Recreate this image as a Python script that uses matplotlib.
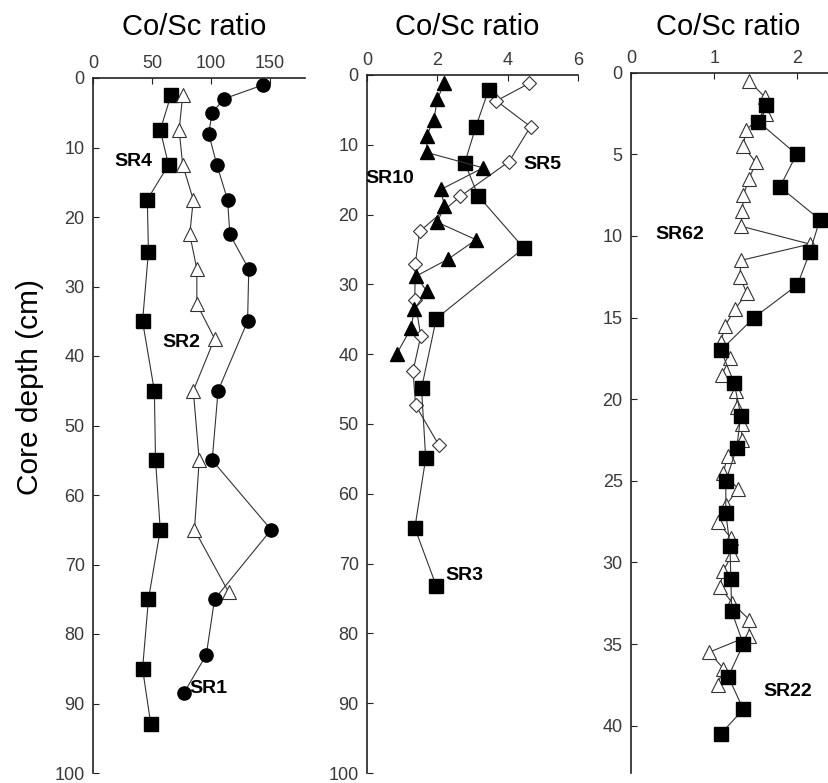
#!/usr/bin/env python3
import matplotlib
matplotlib.use('Agg')
import matplotlib.pyplot as plt

plt.rcParams['font.family'] = ['Liberation Sans', 'DejaVu Sans']

# panel 1: SR4 (squares), SR1 (circles), SR2 (open triangles)
sr4_depth = [2.5, 7.5, 12.5, 17.5, 25, 35, 45, 55, 65, 75, 85, 93]
sr4_ratio = [66, 57, 64, 46, 47, 42, 52, 53, 57, 47, 42, 49]

sr1_depth = [1, 3, 5, 8, 12.5, 17.5, 22.5, 27.5, 35, 45, 55, 65, 75, 83, 88.5]
sr1_ratio = [144, 111, 101, 98, 105, 114, 116, 132, 131, 106, 101, 151, 103, 96, 77]

sr2_depth = [2.5, 7.5, 12.5, 17.5, 22.5, 27.5, 32.5, 37.5, 45, 55, 65, 74]
sr2_ratio = [76, 73, 76, 85, 82, 88, 88, 103, 85, 90, 86, 115]

# panel 2: SR10 (filled triangles), SR3 (squares), SR5 (open diamonds)
sr10_depth = [1.1, 3.5, 6.4, 8.7, 11.1, 13.3, 16.4, 18.8, 21.1, 23.6, 26.4,
              28.8, 31, 33.5, 36.3, 39.9]
sr10_ratio = [2.2, 2.0, 1.9, 1.7, 1.7, 3.3, 2.1, 2.2, 2.0, 3.1, 2.3,
              1.4, 1.7, 1.35, 1.25, 0.85]

sr3_depth = [2.1, 7.5, 12.6, 17.3, 24.8, 34.9, 44.9, 54.9, 64.9, 73.2]
sr3_ratio = [3.46, 3.09, 2.78, 3.16, 4.46, 1.97, 1.55, 1.67, 1.36, 1.97]

sr5_depth = [1.2, 3.7, 7.4, 12.4, 17.4, 22.4, 27.1, 32.2, 37.4, 42.4, 47.3, 53]
sr5_ratio = [4.61, 3.68, 4.65, 4.04, 2.65, 1.5, 1.37, 1.36, 1.53, 1.31, 1.38, 2.04]

# panel 3: SR22 (squares), SR62 (open triangles)
sr22_depth = [2, 3, 5, 7, 9, 11, 13, 15, 17, 19, 21, 23, 25, 27, 29, 31, 33,
              35, 37, 39, 40.5]
sr22_ratio = [1.62, 1.53, 1.99, 1.79, 2.27, 2.15, 2.0, 1.48, 1.08, 1.24, 1.32,
              1.27, 1.14, 1.14, 1.19, 1.2, 1.21, 1.35, 1.17, 1.35, 1.08]

sr62_depth = [0.5, 1.5, 2.5, 3.5, 4.5, 5.5, 6.5, 7.5, 8.5, 9.4, 10.5, 11.5,
              12.5, 13.5, 14.5, 15.5, 16.5, 17.5, 18.5, 19.5, 20.5, 21.5,
              22.5, 23.5, 24.5, 25.5, 26.5, 27.5, 28.5, 29.5, 30.5, 31.5,
              32.5, 33.5, 34.5, 35.5, 36.5, 37.5]
sr62_ratio = [1.42, 1.61, 1.62, 1.38, 1.35, 1.5, 1.42, 1.35, 1.34, 1.32, 2.15,
              1.32, 1.31, 1.39, 1.25, 1.13, 1.08, 1.19, 1.09, 1.26, 1.28, 1.33,
              1.33, 1.16, 1.11, 1.29, 1.14, 1.04, 1.2, 1.22, 1.11, 1.07,
              1.22, 1.42, 1.42, 0.94, 1.11, 1.04]

W, H = 829, 783
fig = plt.figure(figsize=(W / 100, H / 100), dpi=100)


def px_axes(left, right, top, bottom):
    return fig.add_axes([left / W, 1 - bottom / H, (right - left) / W, (bottom - top) / H])


def style(ax, xlim, ylim, xticks, yticks):
    ax.set_xlim(*xlim)
    ax.set_ylim(ylim[1], ylim[0])
    ax.set_xticks(xticks)
    ax.set_yticks(yticks)
    ax.spines['right'].set_visible(False)
    ax.spines['bottom'].set_visible(False)
    for s in ['left', 'top']:
        ax.spines[s].set_linewidth(1.2)
        ax.spines[s].set_color('#222222')
    ax.xaxis.set_ticks_position('top')
    ax.tick_params(axis='x', direction='in', top=True, bottom=False,
                   labeltop=True, labelbottom=False, length=4, pad=4,
                   labelsize=13, labelcolor='#3a3a3a', color='#222222')
    ax.tick_params(axis='y', direction='in', length=4, pad=6,
                   labelsize=13, labelcolor='#3a3a3a', color='#222222')
    ax.patch.set_alpha(0)


line_kw = dict(color='#333333', lw=0.8)
lab_kw = dict(fontsize=14, fontweight='bold', ha='center', va='center')

# panel 1
ax1 = px_axes(93, 305.4, 78, 773)
ax1.plot(sr4_ratio, sr4_depth, marker='s', ms=9.5, mfc='black', mec='black', **line_kw)
ax1.plot(sr2_ratio, sr2_depth, marker='^', ms=10.5, mfc='white', mec='#333333', mew=0.8, **line_kw)
ax1.plot(sr1_ratio, sr1_depth, marker='o', ms=9.5, mfc='black', mec='black', **line_kw)
style(ax1, (0, 180), (0, 100), [0, 50, 100, 150], range(0, 101, 10))
ax1.text(34, 12, 'SR4', **lab_kw)
ax1.text(75, 38, 'SR2', **lab_kw)
ax1.text(98, 87.8, 'SR1', **lab_kw)

# panel 2
ax2 = px_axes(367, 578, 75, 773)
ax2.plot(sr5_ratio, sr5_depth, marker='D', ms=7.5, mfc='white', mec='#333333', mew=0.8, **line_kw)
ax2.plot(sr3_ratio, sr3_depth, marker='s', ms=9.5, mfc='black', mec='black', **line_kw)
ax2.plot(sr10_ratio, sr10_depth, marker='^', ms=10.5, mfc='black', mec='black', **line_kw)
style(ax2, (0, 6), (0, 100), [0, 2, 4, 6], range(0, 101, 10))
ax2.text(0.65, 14.8, 'SR10', **lab_kw)
ax2.text(5.0, 12.8, 'SR5', **lab_kw)
ax2.text(2.78, 71.7, 'SR3', **lab_kw)

# panel 3
ax3 = px_axes(631, 829, 72.7, 773)
ax3.plot(sr62_ratio, sr62_depth, marker='^', ms=10.5, mfc='white', mec='#333333', mew=0.8, **line_kw)
ax3.plot(sr22_ratio, sr22_depth, marker='s', ms=9.5, mfc='black', mec='black', **line_kw)
style(ax3, (0, 2.38), (0, 42.9), [0, 1, 2], range(0, 41, 5))
ax3.text(0.58, 9.9, 'SR62', **lab_kw)
ax3.text(1.88, 37.9, 'SR22', **lab_kw)

# titles and y label
for xc in [194, 467, 728]:
    fig.text(xc / W, 1 - 27 / H, 'Co/Sc ratio', fontsize=21, ha='center', va='center')
fig.text(30 / W, 1 - 387 / H, 'Core depth (cm)', fontsize=21.5, rotation=90,
         ha='center', va='center')

fig.savefig('out.png', dpi=100)
